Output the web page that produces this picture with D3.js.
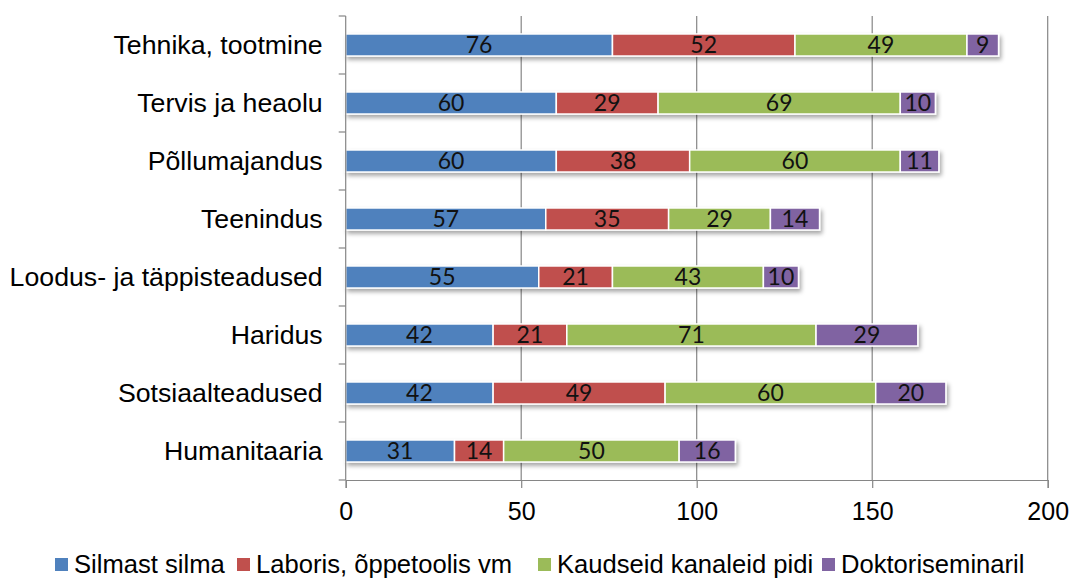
<!DOCTYPE html>
<html>
<head>
<meta charset="utf-8">
<script src="https://cdn.jsdelivr.net/npm/d3@7"></script>
<style>
  body { margin: 0; background: #fff; }
  svg { display: block; }
  .cat text { font-family: "Liberation Sans", Arial, sans-serif; font-size: 26.7px; fill: #000; }
  .xax text { font-family: "Liberation Sans", Arial, sans-serif; font-size: 25px; fill: #000; }
  .val { font-family: Lato, "Open Sans", sans-serif; font-size: 23px; fill: #111; }
  .legend text { font-family: "Liberation Sans", Arial, sans-serif; font-size: 25.6px; fill: #000; }
</style>
</head>
<body>
<svg id="chart" width="1074" height="579"></svg>
<script>
// chart data
const categories = ["Tehnika, tootmine", "Tervis ja heaolu", "Põllumajandus", "Teenindus",
  "Loodus- ja täppisteadused", "Haridus", "Sotsiaalteadused", "Humanitaaria"];
const seriesNames = ["Silmast silma", "Laboris, õppetoolis vm", "Kaudseid kanaleid pidi", "Doktoriseminaril"];
const silmast = [76, 60, 60, 57, 55, 42, 42, 31];
const laboris = [52, 29, 38, 35, 21, 21, 49, 14];
const kaudseid = [49, 69, 60, 29, 43, 71, 60, 50];
const doktori = [9, 10, 11, 14, 10, 29, 20, 16];
const xTicks = [0, 50, 100, 150, 200];

const colors = ["#4F81BD", "#C0504D", "#9BBB59", "#8064A2"];

const svg = d3.select("#chart");
const margin = {left: 345.7, top: 16, right: 26.3, bottom: 99};
const width = 1074 - margin.left - margin.right;
const height = 579 - margin.top - margin.bottom;

const x = d3.scaleLinear().domain([0, 200]).range([0, width]);
const y = d3.scaleBand().domain(categories).range([0, height]).paddingInner(0.62).paddingOuter(0.31);

// stack rows
const rows = categories.map((c, i) => ({cat: c, s0: silmast[i], s1: laboris[i], s2: kaudseid[i], s3: doktori[i]}));
const stack = d3.stack().keys(["s0", "s1", "s2", "s3"])(rows);

const defs = svg.append("defs");
const f = defs.append("filter").attr("id", "shadow").attr("x", "-5%").attr("y", "-50%").attr("width", "110%").attr("height", "220%");
f.append("feDropShadow").attr("dx", 2).attr("dy", 3).attr("stdDeviation", 2)
  .attr("flood-color", "#000").attr("flood-opacity", 0.35);

const g = svg.append("g").attr("transform", `translate(${margin.left},${margin.top})`);

// gridlines
g.append("g").selectAll("line").data(xTicks.slice(1)).join("line")
  .attr("x1", d => x(d)).attr("x2", d => x(d))
  .attr("y1", 0).attr("y2", height)
  .attr("stroke", "#868686").attr("stroke-width", 1.2);

// bars, one group per category so the shadow covers the whole bar
const barG = g.append("g").selectAll("g").data(categories).join("g")
  .attr("filter", "url(#shadow)");
barG.each(function (c, i) {
  const sel = d3.select(this);
  stack.forEach((layer, k) => {
    const d = layer[i];
    sel.append("rect")
      .attr("x", x(d[0]))
      .attr("y", y(c))
      .attr("width", x(d[1]) - x(d[0]))
      .attr("height", y.bandwidth())
      .attr("fill", colors[k])
      .attr("stroke", "#fff").attr("stroke-width", 1.5);
  });
});

// value labels
stack.forEach((layer, k) => {
  g.append("g").selectAll("text").data(layer).join("text")
    .attr("class", "val")
    .attr("x", d => x((d[0] + d[1]) / 2))
    .attr("y", d => y(d.data.cat) + y.bandwidth() / 2 + 8)
    .attr("text-anchor", "middle")
    .text(d => d[1] - d[0]);
});

// category axis
const yAxis = g.append("g").attr("class", "cat");
yAxis.append("line").attr("x1", 0).attr("x2", 0).attr("y1", 0).attr("y2", height)
  .attr("stroke", "#868686").attr("stroke-width", 1.2);
const step = y.step();
yAxis.selectAll("line.tk").data(d3.range(categories.length + 1)).join("line")
  .attr("class", "tk")
  .attr("x1", -7).attr("x2", 0)
  .attr("y1", i => i * step).attr("y2", i => i * step)
  .attr("stroke", "#868686").attr("stroke-width", 1.2);
yAxis.selectAll("text").data(categories).join("text")
  .attr("x", -23)
  .attr("y", d => y(d) + y.bandwidth() / 2 + 9)
  .attr("text-anchor", "end")
  .text(d => d);

// value axis
const xAxis = g.append("g").attr("class", "xax").attr("transform", `translate(0,${height})`)
  .call(d3.axisBottom(x).tickValues(xTicks).tickSize(8).tickPadding(14));
xAxis.select(".domain").attr("stroke", "#868686").attr("stroke-width", 1.2);
xAxis.selectAll(".tick line").attr("stroke", "#868686").attr("stroke-width", 1.2);
xAxis.attr("font-family", null).attr("font-size", null);

// legend
const legendX = [55, 237, 538, 822];
const leg = svg.append("g").attr("class", "legend");
seriesNames.forEach((name, k) => {
  leg.append("rect").attr("x", legendX[k]).attr("y", 558).attr("width", 13).attr("height", 13).attr("fill", colors[k]);
  leg.append("text").attr("x", legendX[k] + 19).attr("y", 573).text(name);
});
</script>
</body>
</html>
